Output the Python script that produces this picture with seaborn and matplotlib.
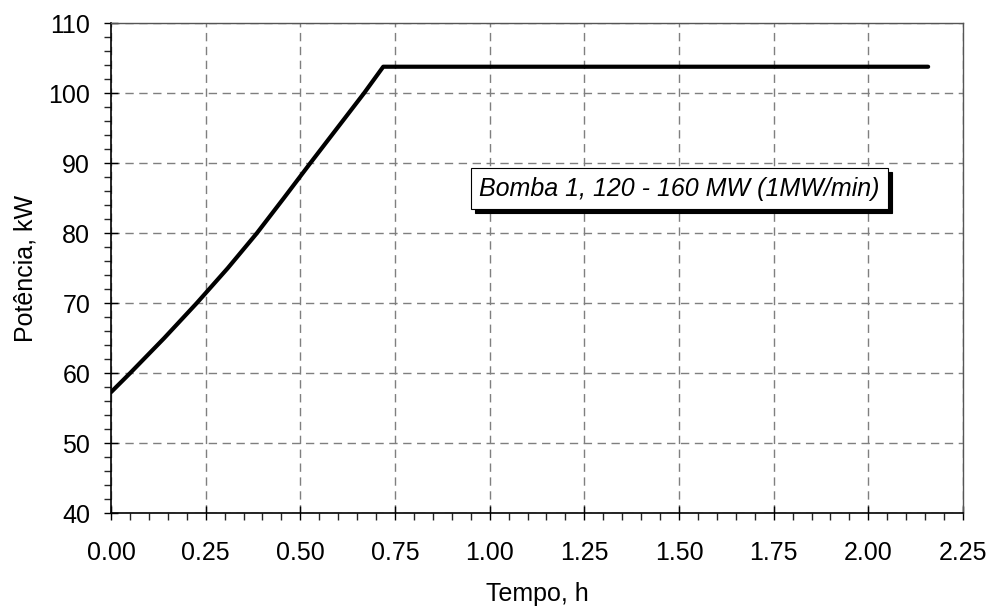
import matplotlib
matplotlib.use("Agg")
import matplotlib.pyplot as plt
from matplotlib.ticker import MultipleLocator, FormatStrFormatter
from matplotlib.patches import Shadow
import seaborn as sns
import pandas as pd

# Pump power during a 120 -> 160 MW ramp (1 MW/min), then steady operation
tempo_h = [0.0, 0.05, 0.140, 0.226, 0.308, 0.385, 0.456, 0.526, 0.597, 0.668, 0.719, 2.158]
potencia_kw = [57.3, 60.0, 65.0, 70.0, 75.0, 80.0, 85.0, 90.0, 95.0, 100.0, 103.8, 103.8]
rotulo = "Bomba 1, 120 - 160 MW (1MW/min)"

df = pd.DataFrame({"Tempo, h": tempo_h, "Potência, kW": potencia_kw})

sns.set_style("ticks")
plt.rcParams["font.family"] = ["Liberation Sans", "DejaVu Sans"]
plt.rcParams["text.color"] = "black"
plt.rcParams["axes.labelcolor"] = "black"
fs = 18

fig = plt.figure(figsize=(9.9, 6.09), dpi=100)
ax = fig.add_axes([0.1121, 0.1571, 0.8606, 0.8046])

sns.lineplot(data=df, x="Tempo, h", y="Potência, kW", color="black",
             linewidth=3.0, sort=False, ax=ax, zorder=5)

ax.set_xlim(0, 2.25)
ax.set_ylim(40, 110)
ax.xaxis.set_major_locator(MultipleLocator(0.25))
ax.xaxis.set_minor_locator(MultipleLocator(0.05))
ax.yaxis.set_major_locator(MultipleLocator(10))
ax.yaxis.set_minor_locator(MultipleLocator(2))
ax.xaxis.set_major_formatter(FormatStrFormatter("%.2f"))

ax.grid(True, which="major", color="#7f7f7f", linestyle=(0, (6, 4)), linewidth=1.0)
ax.set_axisbelow(True)

ax.tick_params(axis="both", which="major", direction="inout", length=10,
               width=1, labelsize=fs, colors="black")
ax.tick_params(axis="x", which="major", pad=15)
ax.tick_params(axis="y", which="major", pad=10)
ax.tick_params(axis="both", which="minor", direction="out", length=5, width=1)

for side in ("left", "bottom"):
    ax.spines[side].set_color("black")
    ax.spines[side].set_linewidth(1.2)
for side in ("top", "right"):
    ax.spines[side].set_visible(True)
    ax.spines[side].set_color("#555555")
    ax.spines[side].set_linewidth(1.0)

ax.set_xlabel("Tempo, h", fontsize=fs, labelpad=12)
ax.set_ylabel("Potência, kW", fontsize=fs, labelpad=8)

# Annotation box with a drop shadow
caixa = ax.text(1.501, 86.4, rotulo, fontsize=fs, style="italic",
                ha="center", va="center", color="black", zorder=7,
                bbox=dict(boxstyle="square,pad=0.34", fc="white", ec="black", lw=0.8))
fig.canvas.draw()
sombra = Shadow(caixa.get_bbox_patch(), 3, -3)
sombra.set_facecolor("black")
sombra.set_edgecolor("black")
sombra.set_alpha(1.0)
sombra.set_zorder(6)
ax.add_artist(sombra)

fig.savefig("out.png", dpi=100)
